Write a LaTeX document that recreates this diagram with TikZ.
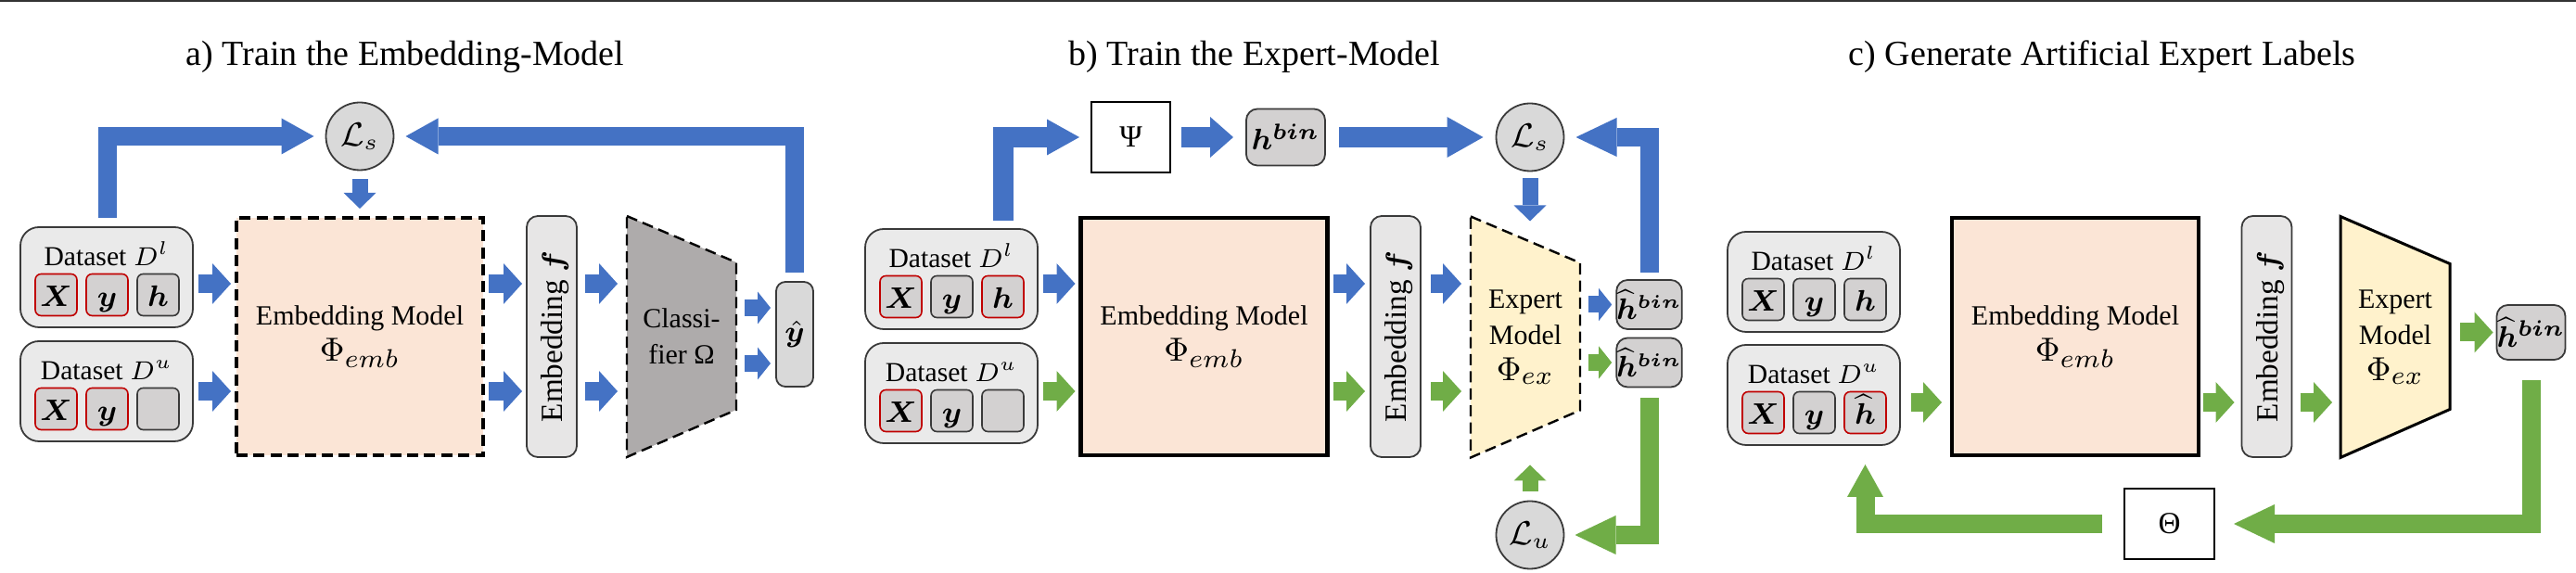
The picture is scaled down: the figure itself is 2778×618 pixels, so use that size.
\documentclass[tikz,border=0pt]{standalone}
\usepackage{fontspec}
\setmainfont{Liberation Serif}
\usepackage{amsmath,bm}
\usetikzlibrary{arrows.meta,backgrounds,calc}
\definecolor{ablue}{HTML}{4472C4}
\definecolor{agreen}{HTML}{70AD47}
\definecolor{peach}{HTML}{FBE5D6}
\definecolor{cream}{HTML}{FFF2CC}
\definecolor{dsfill}{HTML}{EAEAEA}
\definecolor{cellfill}{HTML}{D3D1D1}
\definecolor{lgray}{HTML}{D9D9D9}
\definecolor{fgray}{HTML}{E7E6E6}
\definecolor{cgray}{HTML}{AEABAB}
\definecolor{bord}{HTML}{3A3A3A}
\definecolor{redb}{HTML}{C00000}
\newcommand{\ttlf}{\fontsize{9.5}{11}\selectfont}
\newcommand{\bodyf}{\fontsize{7.5}{9.75}\selectfont}
\newcommand{\dsf}{\fontsize{7.4}{9}\selectfont}
\newcommand{\symf}{\fontsize{8.3}{10}\selectfont}
\newcommand{\phif}{\fontsize{9.3}{9.75}\selectfont}
\newcommand{\hhbin}{$\widehat{\bm{h}}^{\bm{bin}}$}
\tikzset{
  dset/.style={draw=bord, line width=0.45pt, fill=dsfill, rounded corners=5pt,
    minimum width=46.5pt, minimum height=27pt},
  cell/.style={draw=bord, line width=0.4pt, fill=cellfill, rounded corners=1.6pt,
    minimum width=11.25pt, minimum height=11.25pt, text height=6.2pt, text depth=0pt, font=\symf},
  redcell/.style={cell, draw=redb},
  embox/.style={draw=black, fill=peach, minimum width=66.5pt, minimum height=64pt,
    align=center, font=\bodyf},
  emdash/.style={embox, line width=1pt, dash pattern=on 3pt off 1.6pt},
  emsolid/.style={embox, line width=1.1pt},
  fbox/.style={draw=bord, line width=0.45pt, fill=fgray, rounded corners=3pt,
    minimum width=13.5pt, minimum height=65pt},
  trap/.style={minimum width=29.5pt, minimum height=65pt, align=center, font=\bodyf},
  lossc/.style={circle, draw=bord, line width=0.45pt, fill=lgray, minimum size=18.25pt, font=\fontsize{9}{10}\selectfont},
  opbox/.style={draw=black, line width=0.6pt, fill=white, minimum height=19pt, font=\fontsize{8.3}{10}\selectfont},
  outbox/.style={draw=bord, line width=0.45pt, fill=cellfill, rounded corners=3pt, font=\fontsize{7.6}{10}\selectfont},
  ttl/.style={font=\ttlf, anchor=base},
  fatS/.style={line width=5pt, -{Triangle[width=11pt,length=5pt,line width=0pt]}},
  fatT/.style={line width=4.5pt, -{Triangle[width=8.75pt,length=3.5pt,line width=0pt]}},
  fatV/.style={line width=4.25pt, -{Triangle[width=8.75pt,length=4.25pt,line width=0pt]}},
  fatLa/.style={line width=5pt, -{Triangle[width=9.75pt,length=8.75pt,line width=0pt]}},
  fatLb/.style={line width=5pt, -{Triangle[width=10.5pt,length=11pt,line width=0pt]}},
  fatM/.style={line width=5.5pt, -{Triangle[width=11pt,length=6.25pt,line width=0pt]}},
  fatN/.style={line width=5.5pt, -{Triangle[width=11pt,length=9.75pt,line width=0pt]}},
}
\newcommand{\dsbox}[4]{%
  \node[dset, anchor=north west] (#1) at (#2,#3) {};
  \node[font=\dsf, anchor=base] (#1t) at ($(#1.north)+(0,42)$) {Dataset $D^{#4}$};
}
\newcommand{\cells}[7]{%
  \node[#2] (#1a) at ($(#1.north west)+(38.5,73)$) {#3};
  \node[#4] (#1b) at ($(#1.north west)+(93.5,73)$) {#5};
  \node[#6] (#1c) at ($(#1.north west)+(148.5,73)$) {#7};
}
\begin{document}
\begin{tikzpicture}[x=0.25pt,y=-0.25pt, every node/.style={inner sep=0pt,outer sep=0pt}]
\useasboundingbox (0,0) rectangle (2778,618);
\draw[line width=0.5pt, color=black!80] (0,1) -- (2778,1);

% titles
\node[ttl] (Ta) at (437,71) {a) Train the Embedding-Model};
\node[ttl] (Tb) at (1353,71) {b) Train the Expert-Model};
\node[ttl] (Tc) at (2267,71) {c) Generate Artificial Expert Labels};

% row coordinates
\coordinate (r1) at (0,306);
\coordinate (r2) at (0,422);
\coordinate (rc) at (0,434);

% ================= panel a =================
\dsbox{DLa}{22}{245}{l}
\cells{DLa}{redcell}{$\bm{X}$}{redcell}{$\bm{y}$}{cell}{$\bm{h}$}
\dsbox{DUa}{22}{368}{u}
\cells{DUa}{redcell}{$\bm{X}$}{redcell}{$\bm{y}$}{cell}{}
\node[emdash] (EMa) at (388,363) {Embedding Model\\{\phif$\Phi_{emb}$}};
\node[fbox] (Fa) at (595,363) {};
\node[rotate=90, font=\symf] (Fat) at (599,363) {Embedding $\bm{f}$};
\node[trap] (CLa) at (735,363) {Classi-\\fier Ω};
\begin{scope}[on background layer]
\draw[draw=black, line width=0.6pt, fill=cgray, dash pattern=on 3pt off 1.6pt]
  (CLa.north west) -- ($(CLa.north east)+(0,50)$) -- ($(CLa.south east)+(0,-51)$) -- (CLa.south west) -- cycle;
\end{scope}
\node[draw=bord, line width=0.45pt, fill=lgray, rounded corners=2.5pt, minimum width=10pt,
  minimum height=28.25pt, font=\symf] (YHa) at (857,360.5) {$\hat{\bm{y}}$};
\coordinate (ya1) at (0,332);
\coordinate (ya2) at (0,392);
\node[lossc] (LSa) at (388,147) {$\mathcal{L}_s$};

\draw[fatS, ablue, shorten <=1.5pt, shorten >=1.5pt] (DLa.east |- r1) -- (EMa.west |- r1);
\draw[fatS, ablue, shorten <=1.5pt, shorten >=1.5pt] (DUa.east |- r2) -- (EMa.west |- r2);
\draw[fatS, ablue, shorten <=1.5pt, shorten >=1.25pt] (EMa.east |- r1) -- (Fa.west |- r1);
\draw[fatS, ablue, shorten <=1.5pt, shorten >=1.25pt] (EMa.east |- r2) -- (Fa.west |- r2);
\draw[fatS, ablue, shorten <=2.25pt, shorten >=2.5pt] (Fa.east |- r1) -- (CLa.west |- r1);
\draw[fatS, ablue, shorten <=2.25pt, shorten >=2.5pt] (Fa.east |- r2) -- (CLa.west |- r2);
\draw[fatT, ablue, shorten <=2.25pt, shorten >=1.5pt] (CLa.east |- ya1) -- (YHa.west |- ya1);
\draw[fatT, ablue, shorten <=2.25pt, shorten >=1.5pt] (CLa.east |- ya2) -- (YHa.west |- ya2);
\draw[fatLa, ablue, shorten <=2.5pt, shorten >=3.25pt] (DLab |- DLa.north) |- (LSa.west);
\draw[fatLa, ablue, shorten <=2.5pt, shorten >=3.25pt] (YHa.north) |- (LSa.east);
\draw[fatV, ablue, shorten <=2.5pt, shorten >=2.5pt] (LSa.south) -- (EMa.north);

% ================= panel b =================
\dsbox{DLb}{933}{247}{l}
\cells{DLb}{redcell}{$\bm{X}$}{cell}{$\bm{y}$}{redcell}{$\bm{h}$}
\dsbox{DUb}{933}{370}{u}
\cells{DUb}{redcell}{$\bm{X}$}{cell}{$\bm{y}$}{cell}{}
\node[emsolid] (EMb) at (1298.5,363) {Embedding Model\\{\phif$\Phi_{emb}$}};
\node[fbox] (Fb) at (1505,363) {};
\node[rotate=90, font=\symf] (Fbt) at (1509,363) {Embedding $\bm{f}$};
\node[trap] (EXb) at (1645,363.5) {Expert\\Model\\{\phif$\Phi_{ex}$}};
\begin{scope}[on background layer]
\draw[draw=black, line width=0.6pt, fill=cream, dash pattern=on 3pt off 1.6pt]
  (EXb.north west) -- ($(EXb.north east)+(0,50)$) -- ($(EXb.south east)+(0,-51)$) -- (EXb.south west) -- cycle;
\end{scope}
\node[outbox, minimum width=15.75pt, minimum height=13.25pt] (HH1) at (1778.5,328.5) {\hhbin};
\node[outbox, minimum width=15.75pt, minimum height=13.25pt] (HH2) at (1778.5,391) {\hhbin};
\node[lossc] (LSb) at (1650,148) {$\mathcal{L}_s$};
\node[lossc] (LU) at (1650,577) {$\mathcal{L}_u$};
\node[opbox, minimum width=21.25pt] (PSI) at (1219.5,148) {Ψ};
\node[outbox, minimum width=21.25pt, minimum height=15.25pt, font=\fontsize{8}{10}\selectfont] (HB) at (1386.5,148) {$\bm{h}^{\bm{bin}}$};

\draw[fatS, ablue, shorten <=1.5pt, shorten >=1.5pt] (DLb.east |- r1) -- (EMb.west |- r1);
\draw[fatS, agreen, shorten <=1.5pt, shorten >=1.5pt] (DUb.east |- r2) -- (EMb.west |- r2);
\draw[fatS, ablue, shorten <=1.5pt, shorten >=1.5pt] (EMb.east |- r1) -- (Fb.west |- r1);
\draw[fatS, agreen, shorten <=1.5pt, shorten >=1.5pt] (EMb.east |- r2) -- (Fb.west |- r2);
\draw[fatS, ablue, shorten <=2.75pt, shorten >=2.5pt] (Fb.east |- r1) -- (EXb.west |- r1);
\draw[fatS, agreen, shorten <=2.75pt, shorten >=2.5pt] (Fb.east |- r2) -- (EXb.west |- r2);
\draw[fatT, ablue, shorten <=2.25pt, shorten >=1.25pt] (EXb.east |- HH1) -- (HH1.west);
\draw[fatT, agreen, shorten <=2.25pt, shorten >=1.25pt] (EXb.east |- HH2) -- (HH2.west);
\draw[fatLa, ablue, line width=5.5pt, shorten <=2.25pt, shorten >=3.25pt] (DLbc |- DLb.north) |- (PSI.west);
\draw[fatM, ablue, shorten <=3pt, shorten >=3.5pt] (PSI.east) -- (HB.west);
\draw[fatN, ablue, shorten <=3.75pt, shorten >=3.5pt] (HB.east) -- (LSb.west);
\draw[fatLb, ablue, shorten <=2pt, shorten >=3.25pt] (HH1.north) |- (LSb.east);
\draw[fatLb, agreen, shorten <=3pt, shorten >=3pt] (HH2.south) |- (LU.east);
\draw[fatV, ablue, shorten <=2pt, shorten >=-1.25pt] (LSb.south) -- (LSb.south |- EXb.north);
\draw[fatV, agreen, shorten <=2.5pt, shorten >=2pt] (LU.north) -- (LU.north |- EXb.south);

% ================= panel c =================
\dsbox{DLc}{1863}{250}{l}
\cells{DLc}{cell}{$\bm{X}$}{cell}{$\bm{y}$}{cell}{$\bm{h}$}
\dsbox{DUc}{1863}{372}{u}
\cells{DUc}{redcell}{$\bm{X}$}{cell}{$\bm{y}$}{redcell}{$\widehat{\bm{h}}$}
\node[emsolid] (EMc) at (2238,363) {Embedding Model\\{\phif$\Phi_{emb}$}};
\node[fbox] (Fc) at (2444.5,363) {};
\node[rotate=90, font=\symf] (Fct) at (2448.5,363) {Embedding $\bm{f}$};
\node[trap] (EXc) at (2583,363.5) {Expert\\Model\\{\phif$\Phi_{ex}$}};
\begin{scope}[on background layer]
\draw[draw=black, line width=0.75pt, fill=cream]
  (EXc.north west) -- ($(EXc.north east)+(0,51)$) -- ($(EXc.south east)+(0,-52)$) -- (EXc.south west) -- cycle;
\end{scope}
\node[outbox, minimum width=18.25pt, minimum height=14.75pt, font=\fontsize{8}{10}\selectfont] (HHc) at (2729.5,358.5) {\hhbin};
\node[opbox, minimum width=24.25pt] (TH) at (2339.5,565) {Θ};

\draw[fatS, agreen, shorten <=3pt, shorten >=2.75pt] (DUc.east |- rc) -- (EMc.west |- rc);
\draw[fatS, agreen, shorten <=1.25pt, shorten >=2pt] (EMc.east |- rc) -- (Fc.west |- rc);
\draw[fatS, agreen, shorten <=2.25pt, shorten >=2.25pt] (Fc.east |- rc) -- (EXc.west |- rc);
\draw[fatS, agreen, shorten <=2.75pt, shorten >=1pt] (EXc.east |- HHc) -- (HHc.west);
\draw[fatLb, agreen, shorten <=5.5pt, shorten >=5.25pt] (HHc.south) |- (TH.east);
\draw[fatLa, agreen, shorten <=6pt, shorten >=5.25pt] (TH.west) -| (DUcc |- DUc.south);
\end{tikzpicture}
\end{document}
